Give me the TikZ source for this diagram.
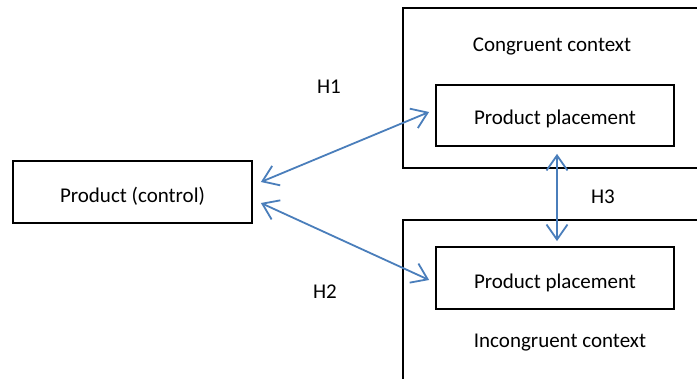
\documentclass[tikz,border=0pt]{standalone}
\usepackage{fontspec}
\setmainfont{Carlito}
\usetikzlibrary{arrows.meta}
\definecolor{arrowblue}{HTML}{4A7EBB}
\newcommand{\lowered}[2]{\raisebox{-#1pt}[0pt][0pt]{#2}}
\begin{document}
\begin{tikzpicture}[x=1pt,y=-1pt,
  box/.style={draw=black, line width=1.8pt, rectangle, inner sep=0pt, anchor=center},
  lbl/.style={font=\fontsize{21}{25}\selectfont, inner sep=0pt},
  txt/.style={lbl, anchor=base},
  hyp/.style={draw=arrowblue, line width=1.8pt, {Straight Barb[length=15pt,width=21pt,line width=1.8pt]}-{Straight Barb[length=15pt,width=21pt,line width=1.8pt]}}]
\clip (0,0) rectangle (697,379);
\useasboundingbox (0,0) rectangle (697,379);
\fill[white] (0,0) rectangle (697,379);
% outer context boxes (extend past the picture's edge)
\node[box, minimum width=317pt, minimum height=160pt] (outer1) at (561.5,88) {};
\node[box, minimum width=317pt, minimum height=180pt] (outer2) at (561.5,310) {};
% inner boxes
\node[box, lbl, minimum width=238pt, minimum height=61pt] (inner1) at (555,115.5) {\lowered{9}{Product placement}};
\node[box, lbl, minimum width=238pt, minimum height=62pt] (inner2) at (555,278) {\lowered{10.5}{Product placement}};
\node[box, lbl, minimum width=239pt, minimum height=62pt] (ctrl) at (132.5,192) {\lowered{11}{Product (control)}};
% context labels
\node[txt] (cong) at (552,52) {Congruent context};
\node[txt] (incong) at (560,347.5) {Incongruent context};
% hypothesis labels
\node[txt] (h1) at (329,93.3) {H1};
\node[txt] (h2) at (325,299) {H2};
\node[txt] (h3) at (603,204) {H3};
% arrows
\draw[hyp] ([shift={(8,-10)}]ctrl.east) -- ([shift={(-6,-3.5)}]inner1.west);
\draw[hyp] ([shift={(8,11)}]ctrl.east) -- ([shift={(-6,2)}]inner2.west);
\draw[hyp] ([shift={(2,7)}]inner1.south) -- ([shift={(2,-5)}]inner2.north);
\end{tikzpicture}
\end{document}
